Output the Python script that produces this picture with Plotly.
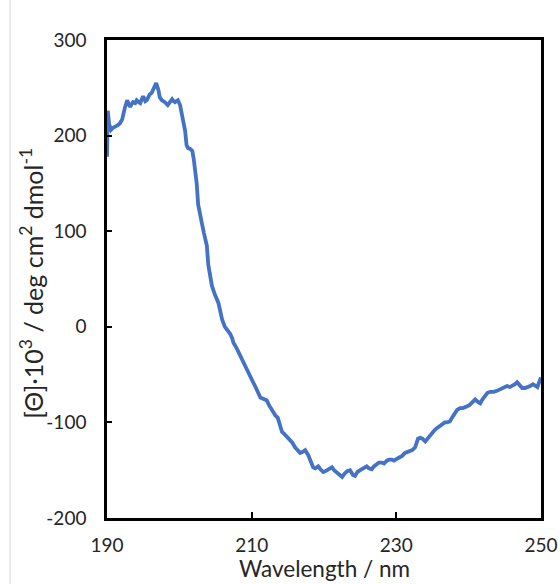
import plotly.graph_objects as go

# CD spectrum: wavelength (nm) and mean residue ellipticity (x10^3 deg cm^2 dmol^-1)
wavelength = [
    190.0, 190.1, 190.3, 190.55, 190.8, 191.1, 191.5, 191.8, 192.1, 192.5,
    192.8, 193.0, 193.2, 193.4, 193.6, 193.9, 194.1, 194.4, 194.6, 194.8,
    195.0, 195.3, 195.5, 195.7, 195.9, 196.2, 196.4, 196.6, 196.8, 197.0,
    197.1, 197.3, 197.6, 198.0, 198.2, 198.4, 198.6, 198.8, 199.0, 199.2,
    199.4, 199.6, 199.8, 200.1, 200.4, 200.6, 200.8, 201.0, 201.2, 201.5,
    201.8, 202.0, 202.2, 202.4, 202.6, 202.8, 203.1, 203.4, 203.8, 204.0,
    204.2, 204.5, 204.9, 205.2, 205.4, 205.7, 205.9, 206.3, 206.6, 207.0,
    207.3, 207.5, 207.9, 208.2, 208.6, 208.9, 209.2, 209.5, 209.8, 210.2,
    210.6, 211.0, 211.2, 211.5, 211.8, 212.1, 212.4, 212.7, 213.0, 213.3,
    213.6, 213.9, 214.2, 214.5, 214.9, 215.3, 215.6, 216.0, 216.3, 216.7,
    217.0, 217.4, 217.8, 218.1, 218.3, 218.5, 218.8, 219.2, 219.5, 219.9,
    220.2, 220.6, 221.1, 221.4, 221.8, 222.1, 222.5, 222.8, 223.2, 223.6,
    224.0, 224.3, 224.6, 225.0, 225.3, 225.6, 225.9, 226.2, 226.6, 226.9,
    227.3, 227.6, 228.0, 228.3, 228.7, 229.0, 229.4, 229.7, 230.1, 230.4,
    230.8, 231.2, 231.5, 231.9, 232.2, 232.6, 232.8, 233.0, 233.3, 233.6,
    234.0, 234.3, 234.7, 235.0, 235.3, 235.6, 236.0, 236.3, 236.7, 237.0,
    237.4, 237.7, 238.1, 238.4, 238.8, 239.2, 239.8, 240.1, 240.5, 240.9,
    241.2, 241.6, 241.9, 242.3, 242.6, 243.0, 243.5, 243.9, 244.2, 244.6,
    245.0, 245.3, 245.7, 246.0, 246.4, 246.7, 247.0, 247.4, 247.8, 248.2,
    248.5, 248.9, 249.2, 249.5, 249.8, 250.0,
]

ellipticity = [
    178, 226, 212, 206, 208, 209, 211, 213, 217, 230,
    237, 233, 230, 233, 235, 234, 237, 235, 234, 238,
    241, 236, 237, 240, 243, 245, 248, 251, 255, 250,
    248, 240, 237, 235, 233, 232, 234, 236, 238, 236,
    235, 236, 237, 232, 222, 213, 205, 190, 187, 186,
    184, 175, 165, 150, 128, 118, 109, 98, 85, 65,
    55, 43, 34, 28, 25, 15, 8, 0, -3, -7,
    -12, -17, -22, -27, -32, -37, -42, -47, -53, -58,
    -64, -70, -74, -75, -76, -77, -82, -86, -90, -93,
    -95, -102, -110, -112, -115, -118, -121, -126, -129, -132,
    -131, -129, -134, -139, -143, -147, -148, -146, -149, -152,
    -151, -149, -147, -150, -153, -155, -157, -154, -151, -150,
    -155, -156, -152, -150, -149, -147, -146, -148, -149, -146,
    -144, -142, -142, -143, -140, -139, -139, -140, -138, -137,
    -135, -132, -131, -130, -129, -126, -122, -117, -116, -117,
    -120, -117, -113, -110, -108, -106, -104, -102, -100, -100,
    -99, -95, -90, -87, -85, -85, -83, -82, -79, -76,
    -78, -80, -76, -71, -69, -68, -68, -67, -66, -65,
    -64, -62, -63, -62, -60, -58, -61, -64, -64, -63,
    -62, -60, -61, -63, -57, -53,
]

x_ticks = [190, 210, 230, 250]
y_ticks = [-200, -100, 0, 100, 200, 300]

x_title = "Wavelength / nm"
y_title = "[Θ]·10<sup>3</sup> / deg cm<sup>2</sup> dmol<sup>-1</sup>"

font_family = "Lato, 'Open Sans', sans-serif"
text_color = "#262626"

fig = go.Figure()
fig.add_trace(go.Scatter(
    x=wavelength,
    y=ellipticity,
    mode="lines",
    line=dict(color="#4472C4", width=3.8),
    showlegend=False,
))

# thin gray frame edge on the left of the canvas
fig.add_shape(
    type="line", xref="paper", yref="paper",
    x0=-0.2235, x1=-0.2235, y0=-0.15, y1=1.1,
    line=dict(color="#d4d4d4", width=1),
)

axis_common = dict(
    ticks="inside", tickwidth=2, tickcolor="black",
    showline=True, linecolor="black", linewidth=2.5, mirror=True,
    showgrid=False, zeroline=False, automargin=False,
    tickfont=dict(family=font_family, size=19, color=text_color),
)

fig.update_xaxes(
    range=[190, 250],
    tickvals=x_ticks,
    ticktext=[str(v) for v in x_ticks],
    ticklen=6, ticklabelstandoff=8,
    **axis_common,
)
fig.update_yaxes(
    range=[-200, 300],
    tickvals=y_ticks,
    ticktext=[str(v) for v in y_ticks],
    ticklen=5, ticklabelstandoff=14,
    **axis_common,
)

# axis titles placed as annotations
fig.add_annotation(
    text=x_title, xref="paper", yref="paper",
    x=0.5, y=-0.138, xanchor="center", yanchor="bottom",
    showarrow=False,
    font=dict(family=font_family, size=22.5, color=text_color),
)
fig.add_annotation(
    text=y_title, xref="paper", yref="paper",
    x=-0.173, y=0.492, xanchor="center", yanchor="middle",
    textangle=-90, showarrow=False,
    font=dict(family=font_family, size=25, color=text_color),
)

fig.update_layout(
    width=560, height=584,
    margin=dict(l=107, r=19, t=40, b=66),
    paper_bgcolor="white", plot_bgcolor="white",
)

fig.write_html("out.html")
